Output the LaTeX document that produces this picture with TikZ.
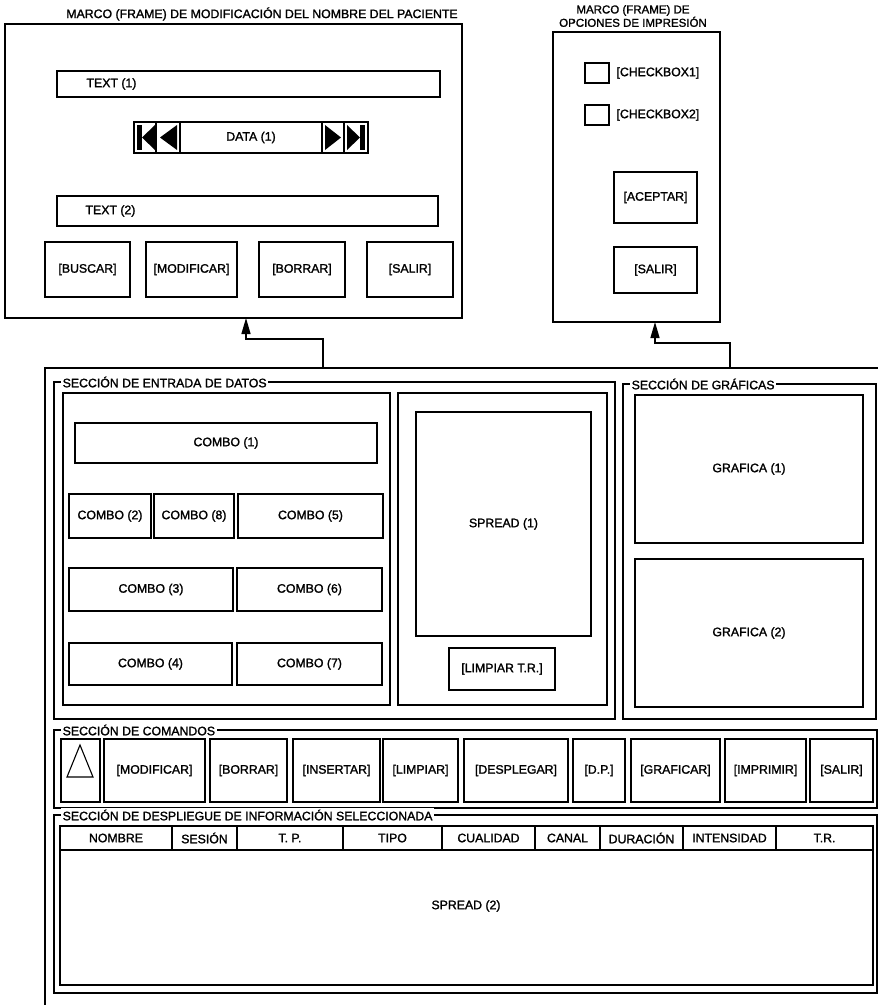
\documentclass[tikz,border=0pt]{standalone}
\usepackage{fontspec}
\setmainfont{Liberation Sans}[FakeBold=1.5]
\usetikzlibrary{arrows.meta,calc}
\newcommand\bx[7][box]{\node[#1, minimum width={(#5-#3)*1pt}, minimum height={(#6-#4)*1pt}] (#2) at ({(#3+#5)/2},{(#4+#6)/2}) {#7};}
\begin{document}
\begin{tikzpicture}[x=1pt,y=-1pt,
  font=\fontsize{12.3}{13}\selectfont,
  box/.style={draw, line width=1.3pt, inner sep=0pt, outer sep=0pt},
  frame/.style={draw, line width=1.5pt, inner sep=0pt, outer sep=0pt},
  sect/.style={draw, line width=1.3pt, inner sep=0pt, outer sep=0pt},
  lbl/.style={fill=white, inner sep=1.5pt, anchor=west},
  conn/.style={line width=1.4pt, -{Triangle[length=16pt,width=9pt]}},
  glyph/.style={fill=black},
]
\useasboundingbox (0,0) rectangle (878,1005);

% ---------- Frame 1: patient name ----------
\node (t1) at (262,14) {MARCO (FRAME) DE MODIFICACIÓN DEL NOMBRE DEL PACIENTE};
\bx[frame]{f1}{5}{24}{462}{318}{}
\bx{txt1}{57}{71}{440}{97}{}
\node[anchor=west] at (83,84) {TEXT (1)};
\bx{navA}{134}{122}{156}{153}{}
\bx{navB}{156}{122}{180}{153}{}
\bx{navC}{180}{122}{322}{153}{DATA (1)}
\bx{navD}{322}{122}{344}{153}{}
\bx{navE}{344}{122}{368}{153}{}
\fill[glyph] (137,125) rectangle (142,150);
\fill[glyph] (155,125) -- (142,137.5) -- (155,150) -- cycle;
\fill[glyph] (177,125) -- (160,137.5) -- (177,150) -- cycle;
\fill[glyph] (325,125) -- (341,137.5) -- (325,150) -- cycle;
\fill[glyph] (347,125) -- (360,137.5) -- (347,150) -- cycle;
\fill[glyph] (360,125) rectangle (365,150);
\bx{txt2}{57}{196}{438}{226}{}
\node[anchor=west] at (82,211) {TEXT (2)};
\bx{buscar}{45}{242}{130}{297}{[BUSCAR]}
\bx{modif}{146}{242}{237}{297}{[MODIFICAR]}
\bx{borrar}{259}{242}{345}{297}{[BORRAR]}
\bx{salir}{367}{242}{453}{297}{[SALIR]}

% ---------- Frame 2: print options ----------
\node[align=center, inner sep=0pt, font=\fontsize{11.5}{12}\selectfont] (t2) at (633,16) {MARCO (FRAME) DE\\OPCIONES DE IMPRESIÓN};
\bx[frame]{f2}{553}{32}{720}{322}{}
\bx{cb1}{585}{63}{609}{83}{}
\node[anchor=west] at (613,73) {[CHECKBOX1]};
\bx{cb2}{585}{105}{609}{125}{}
\node[anchor=west] at (613,115) {[CHECKBOX2]};
\bx{acep}{614}{172}{697}{223}{[ACEPTAR]}
\bx{salir2}{614}{247}{697}{293}{[SALIR]}

% ---------- Main window ----------
\draw[frame] (45,1005) -- (45,368) -- (878,368);
\coordinate (c1) at (323,368);
\coordinate (j1) at (246,339);
\coordinate (c2) at (730,368);
\coordinate (j2) at (655,343);
\draw[conn] (c1) |- (j1) -- (j1 |- f1.south);
\draw[conn] (c2) |- (j2) -- (j2 |- f2.south);

% data entry section
\bx[sect]{ds}{54}{382}{615}{719}{}
\node[lbl] at (61,382) {SECCIÓN DE ENTRADA DE DATOS};
\bx{dl}{63}{393}{390}{705}{}
\bx{dr}{398}{393}{607}{705}{}
\bx{cmb1}{75}{423}{377}{463}{COMBO (1)}
\bx{cmb2}{69}{494}{151}{538}{COMBO (2)}
\bx{cmb8}{154}{494}{234}{538}{COMBO (8)}
\bx{cmb5}{238}{494}{383}{538}{COMBO (5)}
\bx{cmb3}{69}{568}{233}{611}{COMBO (3)}
\bx{cmb6}{237}{568}{382}{611}{COMBO (6)}
\bx{cmb4}{69}{643}{232}{685}{COMBO (4)}
\bx{cmb7}{237}{643}{382}{685}{COMBO (7)}
\bx{spr1}{416}{412}{591}{636}{SPREAD (1)}
\bx{limp}{449}{648}{555}{690}{[LIMPIAR T.R.]}

% graphics section
\bx[sect]{gs}{623}{384}{876}{719}{}
\node[lbl] at (630,384) {SECCIÓN DE GRÁFICAS};
\bx{g1}{635}{395}{863}{543}{GRAFICA (1)}
\bx{g2}{635}{559}{863}{707}{GRAFICA (2)}

% commands section
\bx[sect]{cs}{54}{730}{877}{808}{}
\node[lbl] at (61,730) {SECCIÓN DE COMANDOS};
\bx{ctri}{61}{739}{100}{802}{}
\draw[line width=1.1pt] (67,777) -- (80,745) -- (93,777) -- cycle;
\bx{cmod}{104}{739}{205}{802}{[MODIFICAR]}
\bx{cbor}{210}{739}{287}{802}{[BORRAR]}
\bx{cins}{293}{739}{380}{802}{[INSERTAR]}
\bx{clim}{383}{739}{458}{802}{[LIMPIAR]}
\bx{cdes}{464}{739}{568}{802}{[DESPLEGAR]}
\bx{cdp}{573}{739}{625}{802}{[D.P.]}
\bx{cgra}{631}{739}{720}{802}{[GRAFICAR]}
\bx{cimp}{725}{739}{806}{802}{[IMPRIMIR]}
\bx{csal}{810}{739}{873}{802}{[SALIR]}

% display section
\bx[sect]{dsp}{54}{815}{877}{993}{}
\node[lbl] at (61,815) {SECCIÓN DE DESPLIEGUE DE INFORMACIÓN SELECCIONADA};
\bx{h1}{60}{826}{172}{850}{NOMBRE}
\bx{h2}{172}{826}{237}{850}{SESIÓN}
\bx{h3}{237}{826}{343}{850}{T. P.}
\bx{h4}{343}{826}{442}{850}{TIPO}
\bx{h5}{442}{826}{535}{850}{CUALIDAD}
\bx{h6}{535}{826}{600}{850}{CANAL}
\bx{h7}{600}{826}{683}{850}{DURACIÓN}
\bx{h8}{683}{826}{776}{850}{INTENSIDAD}
\bx{h9}{776}{826}{873}{850}{T.R.}
\bx{body}{60}{850}{873}{985}{}
\node at (466,906) {SPREAD (2)};
\end{tikzpicture}
\end{document}
